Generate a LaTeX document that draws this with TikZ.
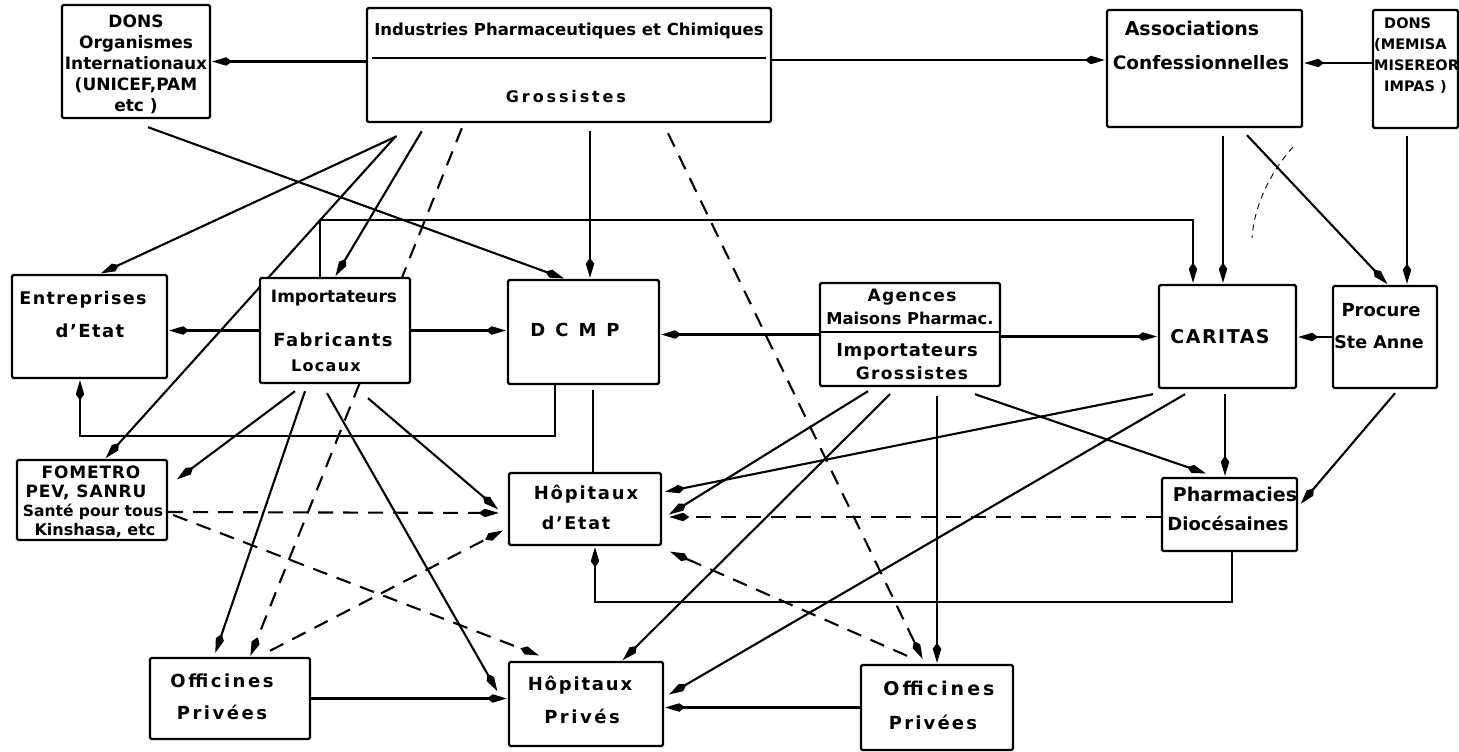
\documentclass[tikz,border=0pt]{standalone}
\usepackage{fontspec}
\setmainfont{DejaVu Sans}
\usetikzlibrary{arrows.meta,backgrounds}
\begin{document}
\begin{tikzpicture}[x=1pt,y=-1pt,
  box/.style={draw, line width=2.4pt, fill=white, rounded corners=1.5pt, inner sep=0pt},
  txt/.style={font=\bfseries\fontsize{17}{20}\selectfont, inner sep=0pt, align=center},
  con/.style={line width=2.1pt},
  arr/.style={con, -{Kite[length=20pt,width=8.5pt,inset=6pt]}, shorten >=1pt},
  dsh/.style={dash pattern=on 15pt off 10pt},
]
\useasboundingbox (0,0) rectangle (1459,752);
% boxes
\node[box, minimum width=148pt, minimum height=113pt] (donsOI) at (136,61.5) {};
\node[box, minimum width=404pt, minimum height=114pt] (ind) at (569,65) {};
\node[box, minimum width=195pt, minimum height=117pt] (assoc) at (1204.5,68.5) {};
\node[box, minimum width=85pt, minimum height=118pt] (donsM) at (1415.5,69) {};
\node[box, minimum width=155pt, minimum height=103pt] (entr) at (89.5,326.5) {};
\node[box, minimum width=150pt, minimum height=105pt] (fab) at (335,330.5) {};
\node[box, minimum width=151pt, minimum height=104pt] (dcmp) at (583.5,332) {};
\node[box, minimum width=180pt, minimum height=103pt] (agen) at (910,334.5) {};
\node[box, minimum width=137pt, minimum height=103pt] (caritas) at (1227.5,336.5) {};
\node[box, minimum width=104pt, minimum height=102pt] (proc) at (1385,337) {};
\node[box, minimum width=150pt, minimum height=80pt] (fometro) at (92,500) {};
\node[box, minimum width=152pt, minimum height=72pt] (hetat) at (585,509) {};
\node[box, minimum width=135pt, minimum height=73pt] (pharm) at (1229.5,514.5) {};
\node[box, minimum width=160pt, minimum height=81pt] (off1) at (230,698.5) {};
\node[box, minimum width=154pt, minimum height=84pt] (hpriv) at (586,704) {};
\node[box, minimum width=152pt, minimum height=85pt] (off2) at (937,707.5) {};
% inner separators
\draw[line width=2pt] ([xshift=6pt,yshift=-51pt]ind.north west) -- ([xshift=-6pt,yshift=-51pt]ind.north east);
\draw[line width=2pt] ([yshift=-50pt]agen.north west) -- ([yshift=-50pt]agen.north east);
% texts
\node[txt, font=\bfseries\fontsize{17}{21}\selectfont] (t1) at (136,64) {DONS\\Organismes\\Internationaux\\(UNICEF,PAM\\etc )};
\node[txt, font=\bfseries\fontsize{16.5}{19}\selectfont] (t2a) at (569,31) {Industries Pharmaceutiques et Chimiques};
\node[txt, font=\bfseries\fontsize{16}{19}\selectfont\addfontfeature{LetterSpace=18}] (t2b) at (566,97) {Grossistes};
\node[txt, font=\bfseries\fontsize{19}{22}\selectfont] (t3a) at (1192,28) {Associations};
\node[txt, font=\bfseries\fontsize{18.5}{22}\selectfont] (t3b) at (1201,63) {Confessionnelles};
\node[txt, font=\bfseries\fontsize{14.5}{21}\selectfont, align=left, anchor=north west] (t4) at (1374,18) {\hspace*{10pt}DONS\\(MEMISA\\MISEREOR\\\hspace*{10pt}IMPAS )};
\node[txt, font=\bfseries\fontsize{17.5}{20}\selectfont\addfontfeature{LetterSpace=8}] (t5a) at (83,300) {Entreprises};
\node[txt, font=\bfseries\fontsize{18}{20}\selectfont\addfontfeature{LetterSpace=8}] (t5b) at (90,331) {d'Etat};
\node[txt, font=\bfseries\fontsize{17}{20}\selectfont] (t6a) at (334,298) {Importateurs};
\node[txt, font=\bfseries\fontsize{18}{20}\selectfont\addfontfeature{LetterSpace=8}] (t6b) at (333,340) {Fabricants};
\node[txt, font=\bfseries\fontsize{16}{18}\selectfont\addfontfeature{LetterSpace=8}] (t6c) at (326,366) {Locaux};
\node[txt, font=\bfseries\fontsize{18}{20}\selectfont] (t7) at (575,330) {D\hspace{10pt}C\hspace{10pt}M\hspace{10pt}P};
\node[txt, font=\bfseries\fontsize{17}{20}\selectfont\addfontfeature{LetterSpace=8}] (t8a) at (912,297) {Agences};
\node[txt, font=\bfseries\fontsize{16.3}{18}\selectfont] (t8b) at (910,318) {Maisons Pharmac.};
\node[txt, font=\bfseries\fontsize{18}{20}\selectfont\addfontfeature{LetterSpace=4}] (t8c) at (907,352) {Importateurs};
\node[txt, font=\bfseries\fontsize{17}{20}\selectfont\addfontfeature{LetterSpace=8}] (t8d) at (912,373) {Grossistes};
\node[txt, font=\bfseries\fontsize{19}{22}\selectfont\addfontfeature{LetterSpace=8}] (t9) at (1220,337) {CARITAS};
\node[txt, font=\bfseries\fontsize{18}{20}\selectfont] (t10a) at (1381,310) {Procure};
\node[txt, font=\bfseries\fontsize{17.5}{20}\selectfont] (t10b) at (1379,342) {Ste Anne};
\node[txt, font=\bfseries\fontsize{17}{20}\selectfont\addfontfeature{LetterSpace=5}] (t11a) at (91,472) {FOMETRO};
\node[txt, font=\bfseries\fontsize{17}{20}\selectfont\addfontfeature{LetterSpace=5}] (t11b) at (86,492) {PEV, SANRU};
\node[txt, font=\bfseries\fontsize{15.5}{20}\selectfont] (t11c) at (93,512) {Santé pour tous};
\node[txt, font=\bfseries\fontsize{16}{20}\selectfont] (t11d) at (95,531) {Kinshasa, etc};
\node[txt, font=\bfseries\fontsize{18}{20}\selectfont\addfontfeature{LetterSpace=10}] (t12a) at (586,494) {Hôpitaux};
\node[txt, font=\bfseries\fontsize{17.5}{20}\selectfont\addfontfeature{LetterSpace=10}] (t12b) at (576,523) {d'Etat};
\node[txt, font=\bfseries\fontsize{19}{22}\selectfont] (t13a) at (1235,494) {Pharmacies};
\node[txt, font=\bfseries\fontsize{18}{22}\selectfont] (t13b) at (1228,523) {Diocésaines};
\node[txt, font=\bfseries\fontsize{18}{20}\selectfont\addfontfeature{LetterSpace=14}] (t14a) at (222,681) {Officines};
\node[txt, font=\bfseries\fontsize{18}{20}\selectfont\addfontfeature{LetterSpace=14}] (t14b) at (222,712) {Privées};
\node[txt, font=\bfseries\fontsize{18}{20}\selectfont\addfontfeature{LetterSpace=10}] (t15a) at (580,685) {Hôpitaux};
\node[txt, font=\bfseries\fontsize{18}{20}\selectfont\addfontfeature{LetterSpace=14}] (t15b) at (582,716) {Privés};
\node[txt, font=\bfseries\fontsize{19}{20}\selectfont\addfontfeature{LetterSpace=16}] (t16a) at (939,688) {Officines};
\node[txt, font=\bfseries\fontsize{18}{20}\selectfont\addfontfeature{LetterSpace=12}] (t16b) at (933,722) {Privées};
% connectors
\begin{pgfonlayer}{background}
\fill[white] (0,0) rectangle (1459,752);
\draw[arr] (ind.west |- donsOI.east) -- (donsOI.east);
\draw[arr] ([yshift=5pt]ind.east) -- ([yshift=8.5pt]assoc.west);
\draw[arr] ([yshift=6pt]donsM.west) -- ([yshift=5.5pt]assoc.east);
\draw[arr] ([xshift=12pt,yshift=-8pt]donsOI.south) -- ([xshift=-18.5pt]dcmp.north);
\draw[arr] ([xshift=31pt,yshift=-13pt]ind.south west) -- ([xshift=10.5pt]entr.north);
\draw[arr] ([xshift=30pt,yshift=-13pt]ind.south west) -- ([xshift=13pt]fometro.north);
\draw[arr] ([xshift=56pt,yshift=-8pt]ind.south west) -- (fab.north);
\draw[arr,dsh] ([xshift=96pt,yshift=-5pt]ind.south west) -- ([xshift=20pt]off1.north);
\draw[arr] ([xshift=21pt,yshift=-8pt]ind.south) -- ([xshift=6.5pt]dcmp.north);
\draw[arr,dsh] ([xshift=99pt,yshift=-10pt]ind.south) -- ([xshift=-14pt,yshift=4pt]off2.north);
\draw[arr] ([xshift=-15pt]fab.north) -- ++(0pt,57pt) -| ([xshift=-34.5pt]caritas.north);
\draw[arr] ([xshift=18.5pt,yshift=-8pt]assoc.south) -- ([xshift=-4.5pt]caritas.north);
\draw[arr] ([xshift=42.5pt,yshift=-7pt]assoc.south) -- ([xshift=3pt]proc.north);
\draw[arr] ([xshift=-8.5pt,yshift=-7pt]donsM.south) -- ([xshift=22pt]proc.north);
\draw[arr] (fab.west) -- (fab.west -| entr.east);
\draw[arr] (fab.east) -- (fab.east -| dcmp.west);
\draw[arr] (agen.west) -- (agen.west -| dcmp.east);
\draw[arr] (caritas.west -| agen.east) -- (caritas.west);
\draw[arr] (proc.west) -- (proc.west -| caritas.east);
\draw[arr] ([xshift=-28.5pt]dcmp.south) -- ++(0pt,-51pt) -| ([xshift=-9.5pt]entr.south);
\draw[con] ([xshift=9.5pt,yshift=-5pt]dcmp.south) -- ([xshift=8pt]hetat.north);
\draw[arr] ([xshift=-40pt,yshift=-7pt]fab.south) -- ([xshift=8pt,yshift=20pt]fometro.east);
\draw[arr] ([xshift=-30pt,yshift=-7pt]fab.south) -- ([xshift=-15pt,yshift=3pt]off1.north);
\draw[arr] ([xshift=-8pt,yshift=-9pt]fab.south) -- ([xshift=-10pt,yshift=12pt]hpriv.west);
\draw[arr] ([xshift=33pt,yshift=-14pt]fab.south) -- ([xshift=-9pt,yshift=-1pt]hetat.west);
\draw[arr,dsh] ([yshift=-12pt]fometro.east) -- ([xshift=-8pt,yshift=-4pt]hetat.west);
\draw[arr,dsh] ([xshift=5pt,yshift=-15pt]fometro.east) -- ([xshift=-46pt,yshift=5pt]hpriv.north);
\draw[arr,dsh] ([xshift=40pt,yshift=6pt]off1.north) -- ([xshift=-4pt,yshift=-21pt]hetat.west);
\draw[arr] (off1.east) -- (off1.east -| hpriv.west);
\draw[arr] (off2.west) -- (off2.west -| hpriv.east);
\draw[arr,dsh] ([xshift=-30pt,yshift=8pt]off2.north) -- ([xshift=7pt,yshift=-5pt]hetat.south east);
\draw[arr] ([xshift=-42pt,yshift=-4pt]agen.south) -- ([xshift=6pt,yshift=-6pt]hetat.east);
\draw[arr] ([xshift=-20pt,yshift=-7pt]agen.south) -- ([xshift=36pt]hpriv.north);
\draw[arr] ([xshift=27pt,yshift=-9pt]agen.south) -- (off2.north);
\draw[arr] ([xshift=65pt,yshift=-7pt]agen.south) -- ([xshift=-22.5pt,yshift=3pt]pharm.north);
\draw[arr] ([xshift=-74.5pt,yshift=-5pt]caritas.south) -- ([xshift=2pt,yshift=17pt]hetat.east);
\draw[arr] ([xshift=-42.5pt,yshift=-5pt]caritas.south) -- ([xshift=4pt,yshift=9pt]hpriv.east);
\draw[arr] ([xshift=-2.5pt,yshift=-5pt]caritas.south) -- ([xshift=-4.5pt]pharm.north);
\draw[arr] ([xshift=10pt,yshift=-4pt]proc.south) -- ([xshift=2pt,yshift=10pt]pharm.east);
\draw[arr,dsh] ([yshift=-2.5pt]pharm.west) -- ([xshift=6pt,yshift=-8pt]hetat.east);
\draw[arr] ([xshift=2.5pt]pharm.south) -- ++(0pt,-50pt) -| ([xshift=10pt]hetat.south);
\draw[line width=0.9pt, dash pattern=on 6pt off 5pt] (1293,147) .. controls (1268,175) and (1254,208) .. (1252,238);
\end{pgfonlayer}
\end{tikzpicture}
\end{document}
